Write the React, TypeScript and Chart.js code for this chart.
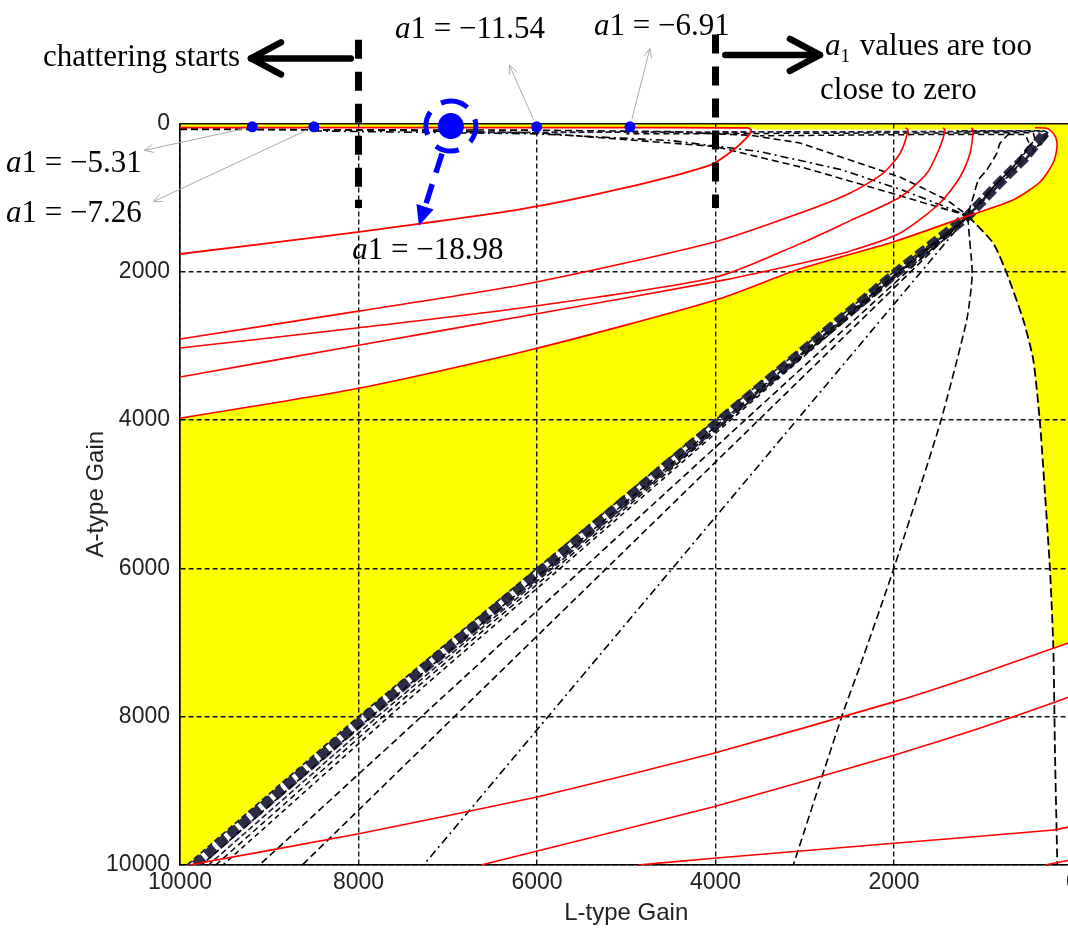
import React, { useEffect, useRef } from "react";
import { Chart, registerables } from "chart.js";

Chart.register(...registerables);

// every point is [L-type gain, A-type gain]
type Pt = [number, number];

const CANVAS_W = 1100;
const CANVAS_H = 930;

const gainTicks = [0, 2000, 4000, 6000, 8000, 10000];

// ---------- shaded (yellow) regions ----------
const yellowUpperRight: Pt[] = [
  [10000, 0], [0, 0], [0, 6985], [215, 7060], [252, 6022], [308, 4994], [364, 4043],
  [439, 3190], [551, 2650], [737, 2020], [887, 1616], [1170, 1245], [667, 1032],
  [364, 789], [218, 533], [174, 317], [190, 180], [252, 88], [300, 80], [3560, 80],
  [3600, 50], [10000, 45],
];
const yellowLowerLeft: Pt[] = [
  [10000, 3976], [10000, 10000], [9920, 10000], [8000, 8000], [6000, 6000], [4000, 4000],
  [2000, 2000], [1170, 1245], [2000, 1594], [3050, 1960], [4000, 2380], [6080, 3055],
  [8000, 3571],
];

// ---------- red a1 contours ----------
const redContour1: Pt[] = [
  [10000, 1760], [8100, 1477], [6190, 1157], [5070, 883], [4060, 560], [3800, 357],
  [3620, 150], [3600, 88], [3640, 60], [5000, 56], [10000, 56],
];
const redContour2: Pt[] = [
  [10000, 2906], [8000, 2530], [6080, 2155], [4000, 1594], [3050, 1207], [2490, 937],
  [2120, 668], [1930, 398], [1843, 88], [1870, 58],
];
const redContour3: Pt[] = [
  [10000, 3028], [8000, 2755], [6080, 2471], [4000, 2074], [3050, 1620], [2490, 1310],
  [1930, 991], [1630, 668], [1485, 317], [1429, 88], [1450, 58],
];
const redContour4: Pt[] = [
  [10000, 3419], [8000, 2990], [6080, 2583], [4000, 2133], [3050, 1888], [2490, 1720],
  [1930, 1477], [1485, 1072], [1260, 722], [1148, 398], [1115, 88], [1135, 58],
];
const redContour5: Pt[] = [
  [10000, 3976], [8000, 3571], [6080, 3055], [4000, 2380], [3050, 1960], [2000, 1594],
  [1170, 1245], [667, 1032], [364, 789], [218, 533], [174, 317], [190, 180], [252, 88],
  [300, 62], [420, 58],
];
const redLower1: Pt[] = [
  [9900, 10000], [8010, 9582], [6000, 9083], [4020, 8494], [2000, 7800], [1100, 7450],
  [207, 7073], [0, 6985],
];
const redLower2: Pt[] = [
  [6627, 10000], [4020, 9214], [2000, 8520], [1100, 8180], [207, 7810], [0, 7715],
];
const redLower3: Pt[] = [[4868, 10000], [4020, 9910], [2000, 9707], [207, 9527], [0, 9475]];
const redLower4: Pt[] = [[308, 10000], [0, 9925]];

// ---------- black dashed contours ----------
const bandEdge: Pt[] = [
  [9920, 10000], [8000, 8000], [6000, 6000], [4000, 4000], [2000, 2000], [1170, 1245],
  [812, 802], [510, 452], [286, 128], [330, 105], [1500, 110], [4000, 115], [6800, 120],
];
const bandCore: Pt[] = [
  [9830, 10000], [7915, 8000], [5925, 6000], [3940, 4000], [1965, 2000], [1170, 1245],
  [830, 815], [540, 470], [330, 160], [350, 105],
];
const bandInner1: Pt[] = [
  [9760, 10000], [7860, 8000], [5885, 6000], [3915, 4000], [1955, 2000], [1170, 1245],
  [870, 840], [610, 520], [420, 210], [440, 125], [2500, 130], [5000, 140],
];
const bandInner2: Pt[] = [
  [9680, 10000], [7790, 8000], [5830, 6000], [3885, 4000], [1945, 2000], [1170, 1245],
  [780, 780], [470, 420], [270, 125], [320, 98], [1300, 100],
];
const bandInner3: Pt[] = [
  [9600, 10000], [7730, 8000], [5790, 6000], [3860, 4000], [1935, 2000], [1170, 1245],
  [900, 870], [660, 580], [480, 280], [530, 150], [1800, 150], [3500, 165],
];
const bandInner4: Pt[] = [
  [9520, 10000], [7660, 8000], [5740, 6000], [3830, 4000], [1920, 2000], [1170, 1245],
  [760, 760], [440, 380], [260, 140],
];
const fanLine1: Pt[] = [
  [10000, 70], [7500, 95], [5970, 128], [4005, 310], [3000, 600], [2190, 883], [1170, 1245],
  [9110, 10000],
];
const fanLine2: Pt[] = [
  [10000, 80], [6000, 90], [4500, 110], [3600, 160], [3053, 263], [2493, 492], [1933, 722],
  [1406, 1032], [1170, 1245], [8630, 10000],
];
const fanLine3: Pt[] = [
  [8500, 100], [6000, 140], [4500, 230], [3500, 380], [2600, 620], [1900, 900], [1170, 1245],
  [7270, 10000],
];
const steepCurve: Pt[] = [
  [700, 125], [812, 267], [849, 402], [961, 627], [1055, 762], [1111, 987], [1170, 1245],
  [1124, 2027], [1185, 2650], [1485, 4050], [2008, 6021], [2344, 7192], [2586, 8000],
  [3128, 10000],
];
const boundaryCurve: Pt[] = [
  [1170, 1245], [887, 1616], [737, 2020], [551, 2650], [439, 3190], [364, 4043],
  [308, 4994], [252, 6022], [215, 7056], [196, 8500], [170, 10000],
];

// ---------- markers and notes ----------
const chatterBound: Pt[] = [[8000, -1130], [8000, 1140]];
const nearZeroBound: Pt[] = [[4000, -1200], [4000, 1140]];
const a1Markers: Pt[] = [[9190, 45], [8500, 45], [6003, 45], [4958, 45]];
const a1Chosen: Pt[] = [[6965, 35]];
const chosenArrowTip: Pt = [7323, 1380];

const a1Tags: { value: string; at: Pt }[] = [
  { value: "−11.54", at: [7591, -1150] },
  { value: "−6.91", at: [5361, -1200] },
  { value: "−5.31", at: [11950, 654] },
  { value: "−7.26", at: [11950, 1328] },
  { value: "−18.98", at: [8070, 1827] },
];
const a1Leaders: { from: Pt; to: Pt }[] = [
  { from: [9190, 45], to: [10400, 363] },
  { from: [8500, 45], to: [10300, 1055] },
  { from: [6003, 45], to: [6310, -789] },
  { from: [4958, 45], to: [4735, -1012] },
];
const chatterArrow: { from: Pt; to: Pt } = { from: [8086, -877], to: [9205, -877] };
const nearZeroArrow: { from: Pt; to: Pt } = { from: [3890, -925], to: [2830, -925] };
const chatterText: { text: string; at: Pt } = { text: "chattering starts", at: [9327, -769] };
const nearZeroLine1: { text: string; at: Pt } = { text: " values are too", at: [2773, -924] };
const nearZeroLine2: { text: string; at: Pt } = { text: "close to zero", at: [2829, -324] };

const SERIF = "'Liberation Serif', 'Times New Roman', Times, serif";
const SANS = "'Liberation Sans', Arial, Helvetica, sans-serif";

const toXY = (pts: Pt[]) => pts.map(([x, y]) => ({ x, y }));

function curve(pts: Pt[], color: string, width: number, dash: number[], order: number, tension = 0, extra: any = {}) {
  return {
    data: toXY(pts),
    showLine: true,
    borderColor: color,
    borderWidth: width,
    borderDash: dash,
    borderCapStyle: "butt",
    pointRadius: 0,
    pointHoverRadius: 0,
    fill: false,
    tension,
    order,
    ...extra,
  };
}

function region(pts: Pt[]) {
  return {
    data: toXY(pts),
    showLine: true,
    borderWidth: 0,
    backgroundColor: "#ffff00",
    pointRadius: 0,
    fill: "shape",
    tension: 0,
    order: 20,
  };
}

const notesPlugin = {
  id: "a1Notes",
  afterDraw(chart: any) {
    const { ctx } = chart;
    const sx = chart.scales.x;
    const sy = chart.scales.y;
    const px = (p: Pt) => ({ x: sx.getPixelForValue(p[0]), y: sy.getPixelForValue(p[1]) });
    ctx.save();

    // thin grey leader arrows
    ctx.strokeStyle = "#a9a9a9";
    ctx.lineWidth = 1;
    ctx.setLineDash([]);
    for (const { from, to } of a1Leaders) {
      const a = px(from);
      const b = px(to);
      const dx = b.x - a.x;
      const dy = b.y - a.y;
      const len = Math.hypot(dx, dy);
      const ux = dx / len;
      const uy = dy / len;
      ctx.beginPath();
      ctx.moveTo(a.x + ux * 8, a.y + uy * 8);
      ctx.lineTo(b.x, b.y);
      ctx.stroke();
      ctx.beginPath();
      ctx.moveTo(b.x - ux * 9 - uy * 4, b.y - uy * 9 + ux * 4);
      ctx.lineTo(b.x, b.y);
      ctx.lineTo(b.x - ux * 9 + uy * 4, b.y - uy * 9 - ux * 4);
      ctx.stroke();
    }

    // bold black arrows
    const bold = (from: Pt, to: Pt) => {
      const a = px(from);
      const b = px(to);
      const dx = b.x - a.x;
      const dy = b.y - a.y;
      const len = Math.hypot(dx, dy);
      const ux = dx / len;
      const uy = dy / len;
      ctx.strokeStyle = "#000";
      ctx.lineWidth = 6.5;
      ctx.lineCap = "round";
      ctx.lineJoin = "round";
      ctx.beginPath();
      ctx.moveTo(a.x, a.y);
      ctx.lineTo(b.x, b.y);
      ctx.stroke();
      ctx.beginPath();
      ctx.moveTo(b.x - ux * 30 - uy * 16, b.y - uy * 30 + ux * 16);
      ctx.lineTo(b.x, b.y);
      ctx.lineTo(b.x - ux * 30 + uy * 16, b.y - uy * 30 - ux * 16);
      ctx.stroke();
    };
    bold(chatterArrow.from, chatterArrow.to);
    bold(nearZeroArrow.from, nearZeroArrow.to);

    // dashed ring and arrow around the chosen gain pair
    const c = px(a1Chosen[0]);
    ctx.strokeStyle = "#0000ff";
    ctx.lineCap = "butt";
    ctx.lineWidth = 5;
    ctx.setLineDash([24, 14]);
    ctx.lineDashOffset = 6;
    ctx.beginPath();
    ctx.arc(c.x, c.y, 25, -Math.PI / 2, Math.PI * 1.5);
    ctx.stroke();

    const tip = px(chosenArrowTip);
    {
      const dx = tip.x - c.x;
      const dy = tip.y - c.y;
      const len = Math.hypot(dx, dy);
      const ux = dx / len;
      const uy = dy / len;
      ctx.lineWidth = 5.5;
      ctx.setLineDash([20, 12]);
      ctx.lineDashOffset = 0;
      ctx.beginPath();
      ctx.moveTo(c.x + ux * 29, c.y + uy * 29);
      ctx.lineTo(tip.x - ux * 14, tip.y - uy * 14);
      ctx.stroke();
      ctx.setLineDash([]);
      ctx.fillStyle = "#0000ff";
      ctx.beginPath();
      ctx.moveTo(tip.x, tip.y);
      ctx.lineTo(tip.x - ux * 20 - uy * 9, tip.y - uy * 20 + ux * 9);
      ctx.lineTo(tip.x - ux * 20 + uy * 9, tip.y - uy * 20 - ux * 9);
      ctx.closePath();
      ctx.fill();
    }

    // text notes
    ctx.setLineDash([]);
    ctx.fillStyle = "#000";
    ctx.textBaseline = "alphabetic";
    ctx.textAlign = "left";
    for (const tag of a1Tags) {
      const p = px(tag.at);
      ctx.font = `italic 31px ${SERIF}`;
      ctx.fillText("a", p.x, p.y);
      const w = ctx.measureText("a").width;
      ctx.font = `31px ${SERIF}`;
      ctx.fillText(`1 = ${tag.value}`, p.x + w, p.y);
    }

    {
      const p = px(chatterText.at);
      ctx.font = `31px ${SERIF}`;
      ctx.textAlign = "right";
      ctx.fillText(chatterText.text, p.x, p.y);
      ctx.textAlign = "left";
    }

    {
      const p = px(nearZeroLine1.at);
      ctx.font = `italic 31px ${SERIF}`;
      ctx.fillText("a", p.x, p.y);
      const wa = ctx.measureText("a").width;
      ctx.font = `19px ${SERIF}`;
      ctx.fillText("1", p.x + wa, p.y + 7);
      const w1 = ctx.measureText("1").width;
      ctx.font = `31px ${SERIF}`;
      ctx.fillText(nearZeroLine1.text, p.x + wa + w1 + 2, p.y);
      const q = px(nearZeroLine2.at);
      ctx.fillText(nearZeroLine2.text, q.x, q.y);
    }

    ctx.restore();
  },
};

export default function App() {
  const ref = useRef<HTMLCanvasElement | null>(null);

  useEffect(() => {
    const canvas = ref.current;
    if (!canvas) return;

    const black = "#000000";
    const band = "#1d1d33";
    const red = "#ff0000";

    const datasets: any[] = [
      region(yellowUpperRight),
      region(yellowLowerLeft),

      curve(bandEdge, band, 1.8, [6, 3], 8),
      curve(bandCore, "#2c2c46", 10, [11, 4], 9),
      curve(bandInner1, black, 1.5, [6, 4], 8, 0, { borderDashOffset: 3 }),
      curve(bandInner2, band, 1.6, [6, 3], 8, 0, { borderDashOffset: 1 }),
      curve(bandInner3, black, 1.5, [6, 4], 8),
      curve(bandInner4, black, 1.5, [5, 4], 8, 0, { borderDashOffset: 2 }),
      curve(fanLine1, black, 1.6, [7, 4], 8),
      curve(fanLine2, black, 1.6, [7, 4], 8),
      curve(fanLine3, black, 1.6, [8, 4, 2, 4], 8),
      curve(steepCurve, black, 1.6, [8, 4], 8, 0.2),
      curve(boundaryCurve, black, 1.8, [9, 4], 8, 0.2),

      curve(redContour1, red, 1.8, [], 5, 0.25),
      curve(redContour2, red, 1.6, [], 5, 0.25),
      curve(redContour3, red, 1.6, [], 5, 0.25),
      curve(redContour4, red, 1.6, [], 5, 0.25),
      curve(redContour5, red, 1.6, [], 5, 0.25),
      curve(redLower1, red, 1.6, [], 5, 0.15),
      curve(redLower2, red, 1.6, [], 5, 0.15),
      curve(redLower3, red, 1.6, [], 5, 0.15),
      curve(redLower4, red, 1.6, [], 5, 0),

      curve(chatterBound, black, 7, [19, 13], 3, 0, { clip: false }),
      curve(nearZeroBound, black, 7, [19, 13], 3, 0, { clip: false }),

      {
        data: toXY(a1Markers),
        showLine: false,
        pointRadius: 5.5,
        pointBackgroundColor: "#0000ff",
        pointBorderWidth: 0,
        clip: false,
        order: 1,
      },
      {
        data: toXY(a1Chosen),
        showLine: false,
        pointRadius: 13,
        pointBackgroundColor: "#0000ff",
        pointBorderWidth: 0,
        clip: false,
        order: 1,
      },
    ];

    const gridDash = (ctx: any) => (ctx.tick && ctx.tick.value === 0 ? [] : [5, 3]);
    const gridWidth = (ctx: any) => (ctx.tick && ctx.tick.value === 0 ? 1.6 : 1.4);
    const tickLabel = (v: any) => `${v}`;

    const chart = new Chart(canvas, {
      type: "scatter",
      data: { datasets },
      plugins: [notesPlugin],
      options: {
        animation: false,
        responsive: false,
        devicePixelRatio: 1,
        events: [],
        layout: { padding: { left: 0, top: 123.5, right: CANVAS_W - 1072.5, bottom: 0 } },
        plugins: {
          legend: { display: false },
          tooltip: { enabled: false },
          filler: { drawTime: "beforeDraw", propagate: false },
        },
        scales: {
          x: {
            type: "linear",
            reverse: true,
            min: gainTicks[0],
            max: gainTicks[gainTicks.length - 1],
            afterBuildTicks: (s: any) => {
              s.ticks = gainTicks.map((value) => ({ value }));
            },
            afterFit: (s: any) => {
              s.height = 65;
            },
            grid: { color: "#111", lineWidth: gridWidth, drawTicks: false },
            border: { display: true, color: "#000", width: 1.6, dash: gridDash },
            ticks: {
              padding: 4,
              color: "#222",
              font: { family: SANS, size: 23 },
              callback: tickLabel,
              maxRotation: 0,
              autoSkip: false,
            },
            title: {
              display: true,
              text: "L-type Gain",
              color: "#222",
              font: { family: SANS, size: 24 },
              padding: { top: 0, bottom: 2.6 },
            },
          },
          y: {
            type: "linear",
            reverse: true,
            min: gainTicks[0],
            max: gainTicks[gainTicks.length - 1],
            afterBuildTicks: (s: any) => {
              s.ticks = gainTicks.map((value) => ({ value }));
            },
            afterFit: (s: any) => {
              s.width = 180;
            },
            grid: { color: "#111", lineWidth: gridWidth, drawTicks: false },
            border: { display: true, color: "#000", width: 1.6, dash: gridDash },
            ticks: {
              padding: 10,
              color: "#222",
              font: { family: SANS, size: 23 },
              callback: tickLabel,
              autoSkip: false,
            },
            title: {
              display: true,
              text: "A-type Gain",
              color: "#222",
              font: { family: SANS, size: 24 },
              padding: { top: 82, bottom: 0 },
            },
          },
        },
      } as any,
    } as any);

    return () => chart.destroy();
  }, []);

  return (
    <div
      style={{
        position: "fixed",
        left: 0,
        top: 0,
        width: 1068,
        height: 930,
        overflow: "hidden",
        background: "#ffffff",
      }}
    >
      <canvas
        ref={ref}
        width={CANVAS_W}
        height={CANVAS_H}
        style={{ display: "block", width: CANVAS_W, height: CANVAS_H }}
      />
    </div>
  );
}
